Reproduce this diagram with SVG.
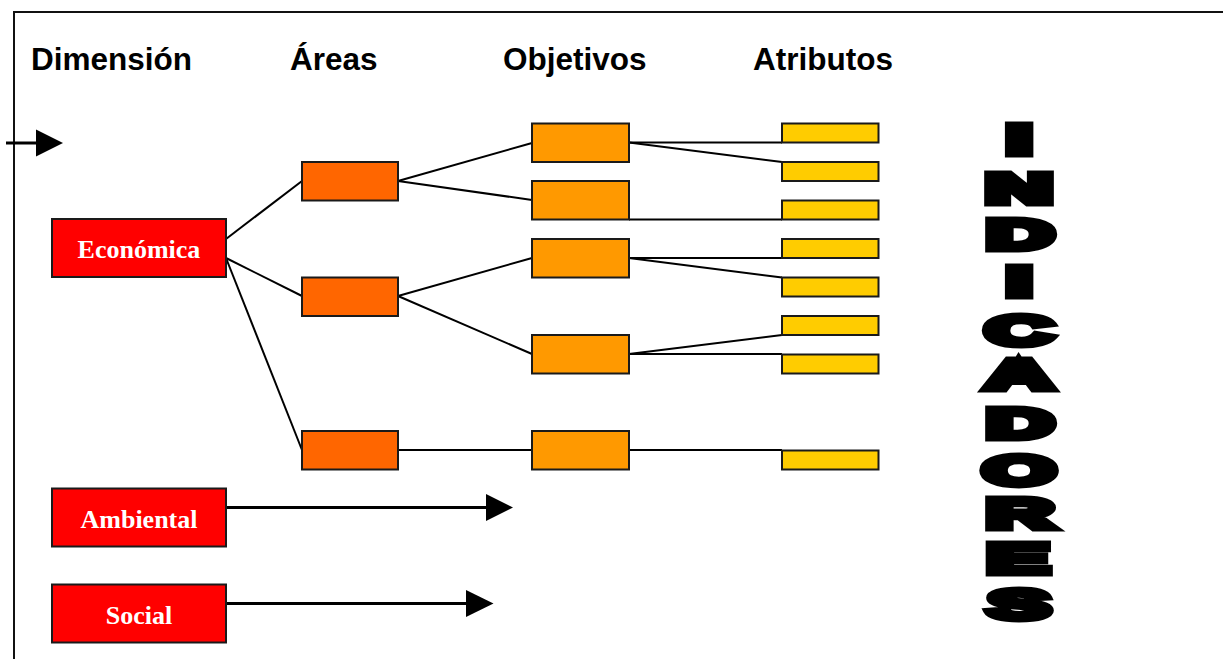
<svg xmlns="http://www.w3.org/2000/svg" width="1223" height="659" viewBox="0 0 1223 659">
<style>
.hdr{font-family:"Liberation Sans",Arial,sans-serif;font-weight:bold;font-size:31.5px;fill:#000}
.lbl{font-family:"Liberation Serif","Times New Roman",serif;font-weight:bold;font-size:26px;fill:#fff;text-anchor:middle}
.box{stroke:#1a1a1a;stroke-width:2}
.dim{fill:#ff0000}
.area{fill:#ff6600}
.obj{fill:#ff9900}
.attr{fill:#ffcc00}
.ln{stroke:#000;stroke-width:2;fill:none}
.arr{stroke:#000;stroke-width:3;fill:none}
.big{font-family:"Liberation Sans",Arial,sans-serif;font-weight:bold;font-size:43px;fill:#000;stroke:#000;stroke-width:7;stroke-linejoin:miter;text-anchor:middle}
</style>
<rect width="1223" height="659" fill="#fff"/>
<g id="frame">
<path d="M14 659 V12 H1223" stroke="#111" stroke-width="2" fill="none"/>
</g>
<g id="headers">
<text class="hdr" x="31" y="70">Dimensión</text>
<text class="hdr" x="290" y="70">Áreas</text>
<text class="hdr" x="503" y="70">Objetivos</text>
<text class="hdr" x="753" y="70">Atributos</text>
</g>
<g id="connectors">
<line class="ln" x1="226" y1="239" x2="302" y2="181"/>
<line class="ln" x1="226" y1="258" x2="302" y2="296"/>
<line class="ln" x1="226" y1="258" x2="302" y2="450"/>
<line class="ln" x1="398" y1="181" x2="532" y2="143"/>
<line class="ln" x1="398" y1="181" x2="532" y2="200"/>
<line class="ln" x1="398" y1="296" x2="532" y2="258"/>
<line class="ln" x1="398" y1="296" x2="532" y2="354"/>
<line class="ln" x1="398" y1="450" x2="532" y2="450"/>
<line class="ln" x1="629" y1="142.5" x2="782" y2="142.5"/>
<line class="ln" x1="629" y1="142.5" x2="782" y2="162"/>
<line class="ln" x1="629" y1="219.5" x2="782" y2="219.5"/>
<line class="ln" x1="629" y1="258" x2="782" y2="258"/>
<line class="ln" x1="629" y1="258" x2="782" y2="277.5"/>
<line class="ln" x1="629" y1="354" x2="782" y2="335"/>
<line class="ln" x1="629" y1="354" x2="782" y2="354"/>
<line class="ln" x1="629" y1="450" x2="782" y2="450"/>
<line class="arr" x1="6" y1="143" x2="38" y2="143"/>
<polygon points="36,129.5 63,143 36,156.5" fill="#000"/>
<line class="arr" x1="226" y1="507.5" x2="488" y2="507.5"/>
<polygon points="486,494 513,507.5 486,521" fill="#000"/>
<line class="arr" x1="226" y1="603.5" x2="468" y2="603.5"/>
<polygon points="466,590 493.5,603.5 466,617" fill="#000"/>
</g>
<g id="economica"><rect class="box dim" x="52" y="219" width="174" height="58"/><text class="lbl" x="139" y="258">Económica</text></g>
<g id="ambiental"><rect class="box dim" x="52" y="488.5" width="174" height="58"/><text class="lbl" x="139" y="527.5">Ambiental</text></g>
<g id="social"><rect class="box dim" x="52" y="584.5" width="174" height="58"/><text class="lbl" x="139" y="623.5">Social</text></g>
<g id="area1"><rect class="box area" x="302" y="162" width="96" height="38.5"/></g>
<g id="area2"><rect class="box area" x="302" y="277.5" width="96" height="38.5"/></g>
<g id="area3"><rect class="box area" x="302" y="431" width="96" height="38.5"/></g>
<g id="obj1"><rect class="box obj" x="532" y="123.5" width="97" height="38.5"/></g>
<g id="obj2"><rect class="box obj" x="532" y="181" width="97" height="38.5"/></g>
<g id="obj3"><rect class="box obj" x="532" y="239" width="97" height="38.5"/></g>
<g id="obj4"><rect class="box obj" x="532" y="335" width="97" height="38.5"/></g>
<g id="obj5"><rect class="box obj" x="532" y="431" width="97" height="38.5"/></g>
<g id="attr1"><rect class="box attr" x="782" y="123.5" width="96.5" height="19"/></g>
<g id="attr2"><rect class="box attr" x="782" y="162" width="96.5" height="19"/></g>
<g id="attr3"><rect class="box attr" x="782" y="200.5" width="96.5" height="19"/></g>
<g id="attr4"><rect class="box attr" x="782" y="239" width="96.5" height="19"/></g>
<g id="attr5"><rect class="box attr" x="782" y="277.5" width="96.5" height="19"/></g>
<g id="attr6"><rect class="box attr" x="782" y="316" width="96.5" height="19"/></g>
<g id="attr7"><rect class="box attr" x="782" y="354.5" width="96.5" height="19"/></g>
<g id="attr8"><rect class="box attr" x="782" y="450.5" width="96.5" height="19"/></g>
<g id="indicadores">
<text class="big" transform="scale(2.16,1)"><tspan x="471.8" y="154.5">I</tspan><tspan x="471.8" y="203.5">N</tspan><tspan x="472.2" y="249.5">D</tspan><tspan x="471.8" y="296.5">I</tspan><tspan x="471.8" y="345">C</tspan><tspan x="471.8" y="389.5">A</tspan><tspan x="472.2" y="438.5">D</tspan><tspan x="471.8" y="485">O</tspan><tspan x="472.2" y="528.5">R</tspan><tspan x="471.3" y="573.5">E</tspan><tspan x="471.8" y="619">S</tspan></text>
</g>
</svg>
